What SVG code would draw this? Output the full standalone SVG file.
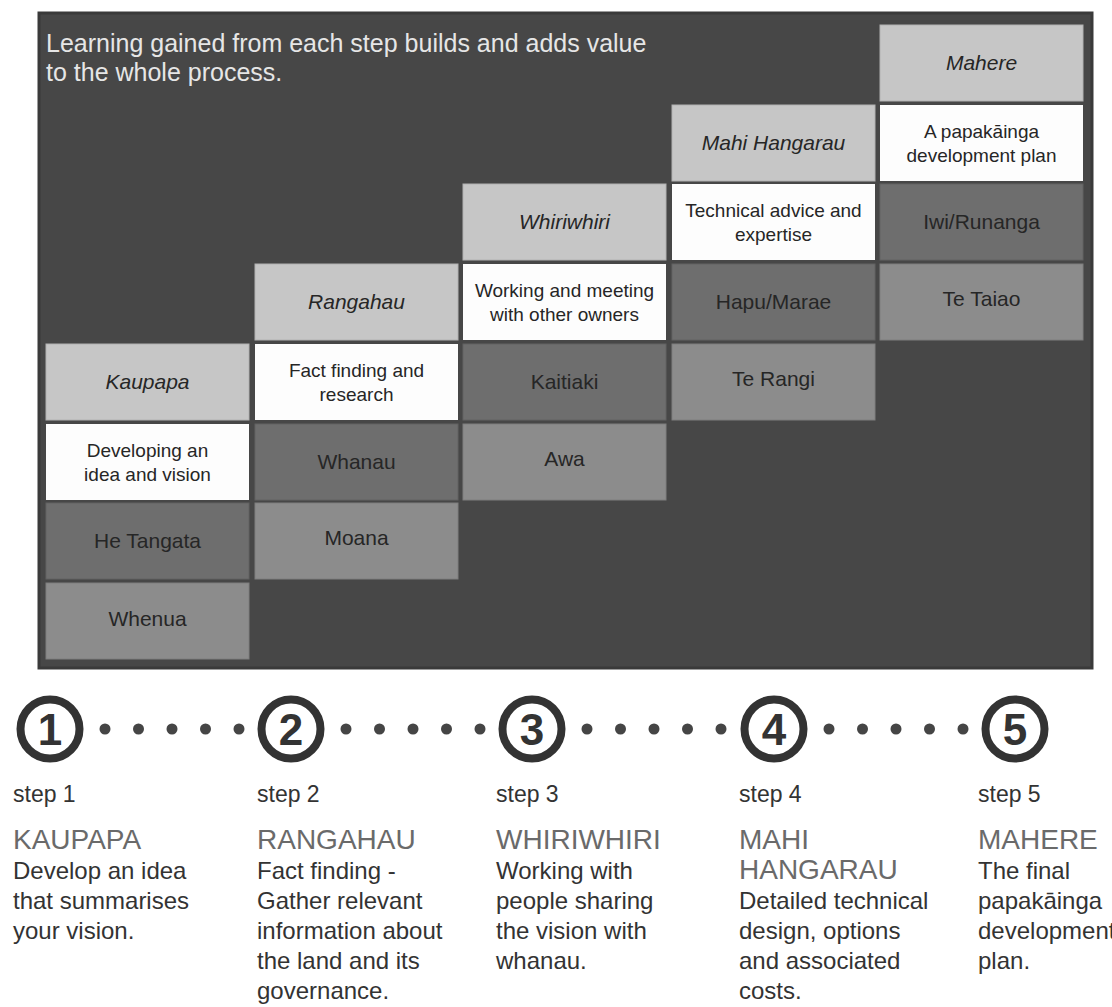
<svg xmlns="http://www.w3.org/2000/svg" width="1112" height="1007" viewBox="0 0 1112 1007">
<style>
.bg{fill:#ffffff}
.panel{fill:#474747;stroke:#3a3a3a;stroke-width:3}
.hd{fill:#c6c6c6;stroke:#b2b2b2;stroke-width:1}
.wh{fill:#fdfdfd}
.dk{fill:#6e6e6e;stroke:#626262;stroke-width:1}
.md{fill:#8c8c8c;stroke:#7e7e7e;stroke-width:1}
text{font-family:"Liberation Sans",Arial,sans-serif}
.lbl{font-size:21px;fill:#262626;text-anchor:middle}
.it{font-style:italic}
.desc{font-size:19px;fill:#262626;text-anchor:middle}
.top{font-size:25px;fill:#e6e6e6}
.ring{fill:none;stroke:#333333;stroke-width:8}
.num{font-size:44px;font-weight:bold;fill:#333333;text-anchor:middle}
.dot{fill:#454545}
.step{font-size:23px;fill:#333333}
.head{font-size:28px;fill:#6a6a6a}
.body{font-size:24px;fill:#333333}
</style>
<rect class="bg" x="0" y="0" width="1112" height="1007"/>
<g id="panel">
<rect class="panel" x="39" y="13" width="1053" height="655"/>
<text class="top" x="46" y="52">Learning gained from each step builds and adds value</text>
<text class="top" x="46" y="81">to the whole process.</text>
</g>
<!-- Column 1 -->
<g id="kaupapa"><rect class="hd" x="46" y="344" width="203" height="76"/><text class="lbl it" x="147.5" y="389">Kaupapa</text></g>
<g id="kaupapa-desc"><rect class="wh" x="46" y="424" width="203" height="76"/><text class="desc" x="147.5" y="457">Developing an</text><text class="desc" x="147.5" y="481">idea and vision</text></g>
<g id="he-tangata"><rect class="dk" x="46" y="503" width="203" height="76"/><text class="lbl" x="147.5" y="548">He Tangata</text></g>
<g id="whenua"><rect class="md" x="46" y="583" width="203" height="76"/><text class="lbl" x="147.5" y="626">Whenua</text></g>
<!-- Column 2 -->
<g id="rangahau"><rect class="hd" x="255" y="264" width="203" height="76"/><text class="lbl it" x="356.5" y="309">Rangahau</text></g>
<g id="rangahau-desc"><rect class="wh" x="255" y="344" width="203" height="76"/><text class="desc" x="356.5" y="377">Fact finding and</text><text class="desc" x="356.5" y="401">research</text></g>
<g id="whanau"><rect class="dk" x="255" y="424" width="203" height="76"/><text class="lbl" x="356.5" y="469">Whanau</text></g>
<g id="moana"><rect class="md" x="255" y="503" width="203" height="76"/><text class="lbl" x="356.5" y="545">Moana</text></g>
<!-- Column 3 -->
<g id="whiriwhiri"><rect class="hd" x="463" y="184" width="203" height="76"/><text class="lbl it" x="564.5" y="229">Whiriwhiri</text></g>
<g id="whiriwhiri-desc"><rect class="wh" x="463" y="264" width="203" height="76"/><text class="desc" x="564.5" y="297">Working and meeting</text><text class="desc" x="564.5" y="321">with other owners</text></g>
<g id="kaitiaki"><rect class="dk" x="463" y="344" width="203" height="76"/><text class="lbl" x="564.5" y="389">Kaitiaki</text></g>
<g id="awa"><rect class="md" x="463" y="424" width="203" height="76"/><text class="lbl" x="564.5" y="466">Awa</text></g>
<!-- Column 4 -->
<g id="mahi-hangarau"><rect class="hd" x="672" y="105" width="203" height="76"/><text class="lbl it" x="773.5" y="150">Mahi Hangarau</text></g>
<g id="mahi-desc"><rect class="wh" x="672" y="184" width="203" height="76"/><text class="desc" x="773.5" y="217">Technical advice and</text><text class="desc" x="773.5" y="241">expertise</text></g>
<g id="hapu-marae"><rect class="dk" x="672" y="264" width="203" height="76"/><text class="lbl" x="773.5" y="309">Hapu/Marae</text></g>
<g id="te-rangi"><rect class="md" x="672" y="344" width="203" height="76"/><text class="lbl" x="773.5" y="386">Te Rangi</text></g>
<!-- Column 5 -->
<g id="mahere"><rect class="hd" x="880" y="25" width="203" height="76"/><text class="lbl it" x="981.5" y="70">Mahere</text></g>
<g id="mahere-desc"><rect class="wh" x="880" y="105" width="203" height="76"/><text class="desc" x="981.5" y="138">A papakāinga</text><text class="desc" x="981.5" y="162">development plan</text></g>
<g id="iwi-runanga"><rect class="dk" x="880" y="184" width="203" height="76"/><text class="lbl" x="981.5" y="229">Iwi/Runanga</text></g>
<g id="te-taiao"><rect class="md" x="880" y="264" width="203" height="76"/><text class="lbl" x="981.5" y="306">Te Taiao</text></g>
<!-- connectors: dotted lines between step circles -->
<g id="connectors">
<circle class="dot" cx="105" cy="729" r="5.5"/><circle class="dot" cx="138.5" cy="729" r="5.5"/><circle class="dot" cx="172" cy="729" r="5.5"/><circle class="dot" cx="205.5" cy="729" r="5.5"/><circle class="dot" cx="239" cy="729" r="5.5"/>
<circle class="dot" cx="346" cy="729" r="5.5"/><circle class="dot" cx="379.5" cy="729" r="5.5"/><circle class="dot" cx="413" cy="729" r="5.5"/><circle class="dot" cx="446.5" cy="729" r="5.5"/><circle class="dot" cx="480" cy="729" r="5.5"/>
<circle class="dot" cx="587" cy="729" r="5.5"/><circle class="dot" cx="620.5" cy="729" r="5.5"/><circle class="dot" cx="654" cy="729" r="5.5"/><circle class="dot" cx="687.5" cy="729" r="5.5"/><circle class="dot" cx="721" cy="729" r="5.5"/>
<circle class="dot" cx="829" cy="729" r="5.5"/><circle class="dot" cx="862.5" cy="729" r="5.5"/><circle class="dot" cx="896" cy="729" r="5.5"/><circle class="dot" cx="929.5" cy="729" r="5.5"/><circle class="dot" cx="963" cy="729" r="5.5"/>
</g>
<!-- Steps -->
<g id="step1">
<circle class="ring" cx="50" cy="729" r="29.5"/><text class="num" x="50" y="745">1</text>
<text class="step" x="13" y="802">step 1</text>
<text class="head" x="13" y="849">KAUPAPA</text>
<text class="body" x="13" y="879">Develop an idea</text>
<text class="body" x="13" y="909">that summarises</text>
<text class="body" x="13" y="939">your vision.</text>
</g>
<g id="step2">
<circle class="ring" cx="291" cy="729" r="29.5"/><text class="num" x="291" y="745">2</text>
<text class="step" x="257" y="802">step 2</text>
<text class="head" x="257" y="849">RANGAHAU</text>
<text class="body" x="257" y="879">Fact finding -</text>
<text class="body" x="257" y="909">Gather relevant</text>
<text class="body" x="257" y="939">information about</text>
<text class="body" x="257" y="969">the land and its</text>
<text class="body" x="257" y="999">governance.</text>
</g>
<g id="step3">
<circle class="ring" cx="532" cy="729" r="29.5"/><text class="num" x="532" y="745">3</text>
<text class="step" x="496" y="802">step 3</text>
<text class="head" x="496" y="849">WHIRIWHIRI</text>
<text class="body" x="496" y="879">Working with</text>
<text class="body" x="496" y="909">people sharing</text>
<text class="body" x="496" y="939">the vision with</text>
<text class="body" x="496" y="969">whanau.</text>
</g>
<g id="step4">
<circle class="ring" cx="774" cy="729" r="29.5"/><text class="num" x="774" y="745">4</text>
<text class="step" x="739" y="802">step 4</text>
<text class="head" x="739" y="849">MAHI</text>
<text class="head" x="739" y="879">HANGARAU</text>
<text class="body" x="739" y="909">Detailed technical</text>
<text class="body" x="739" y="939">design, options</text>
<text class="body" x="739" y="969">and associated</text>
<text class="body" x="739" y="999">costs.</text>
</g>
<g id="step5">
<circle class="ring" cx="1015" cy="729" r="29.5"/><text class="num" x="1015" y="745">5</text>
<text class="step" x="978" y="802">step 5</text>
<text class="head" x="978" y="849">MAHERE</text>
<text class="body" x="978" y="879">The final</text>
<text class="body" x="978" y="909">papakāinga</text>
<text class="body" x="978" y="939">development</text>
<text class="body" x="978" y="969">plan.</text>
</g>
</svg>
